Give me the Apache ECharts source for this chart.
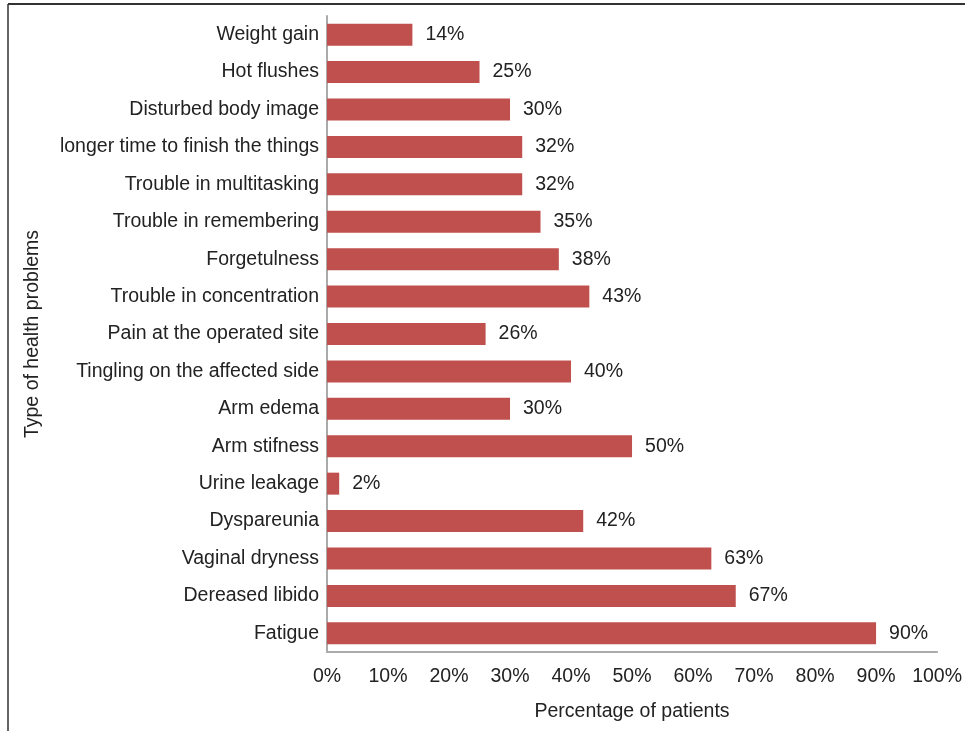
<!DOCTYPE html>
<html><head><meta charset="utf-8">
<script src="https://cdn.jsdelivr.net/npm/echarts@6/dist/echarts.min.js"></script>
<style>html,body{margin:0;padding:0;background:#fff}#c{width:965px;height:731px}</style>
</head><body><div id="c"></div>
<script>
const categories = ["Weight gain","Hot flushes","Disturbed body image","longer time to finish the things","Trouble in multitasking","Trouble in remembering","Forgetulness","Trouble in concentration","Pain at the operated site","Tingling on the affected side","Arm edema","Arm stifness","Urine leakage","Dyspareunia","Vaginal dryness","Dereased libido","Fatigue"];
const values = [14,25,30,32,32,35,38,43,26,40,30,50,2,42,63,67,90];
const xTicks = [0,10,20,30,40,50,60,70,80,90,100];

const chart = echarts.init(document.getElementById('c'));
const font = 'Liberation Sans, Arial, sans-serif';
const fs = 19.5;
chart.setOption({
  animation: false,
  textStyle: {fontFamily: font},
  graphic: [
    {type:'line', shape:{x1:8,y1:4,x2:965,y2:4}, style:{stroke:'#333',lineWidth:2}},
    {type:'line', shape:{x1:8,y1:4,x2:8,y2:731}, style:{stroke:'#333',lineWidth:1.5}}
  ],
  grid: {left:327, top:16, width:611, height:636, containLabel:false},
  xAxis: {
    type:'value', min:0, max:100, interval:10,
    axisLine:{show:true, lineStyle:{color:'#aaaaaa', width:2}},
    axisTick:{show:false}, splitLine:{show:false},
    axisLabel:{formatter: v => v + '%', fontSize:fs, color:'#222', margin:15, fontFamily:font},
    name:'Percentage of patients', nameLocation:'middle', nameGap:50,
    nameTextStyle:{fontSize:fs, color:'#222', fontFamily:font}
  },
  yAxis: {
    type:'category', data:categories, inverse:true,
    axisLine:{show:true, lineStyle:{color:'#aaaaaa', width:2}},
    axisTick:{show:false},
    axisLabel:{fontSize:fs, color:'#222', margin:8, fontFamily:font, padding:[3,0,0,0]},
    name:'Type of health problems', nameLocation:'middle', nameGap:284, nameRotate:90,
    nameTextStyle:{fontSize:fs, color:'#222', fontFamily:font}
  },
  series: [{
    type:'bar', data:values, barWidth:22,
    itemStyle:{color:'#c0504d'},
    label:{show:true, position:'right', distance:13, formatter: p => p.value + '%', fontSize:fs, color:'#222', fontFamily:font, padding:[4,0,0,0]}
  }]
});
</script></body></html>
